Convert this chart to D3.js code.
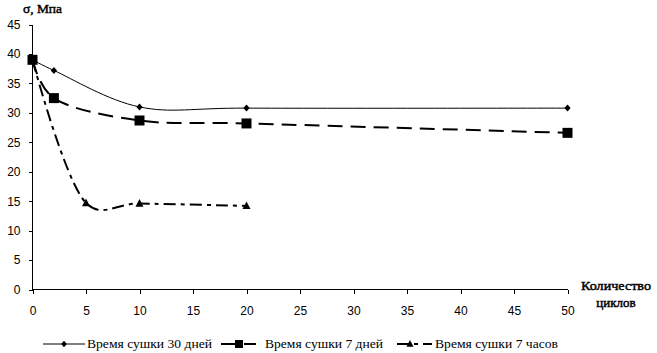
<!DOCTYPE html>
<html>
<head>
<meta charset="utf-8">
<script src="https://cdn.jsdelivr.net/npm/d3@7/dist/d3.min.js"></script>
<style>
    body { margin: 0; background: #fff; }
    svg { display: block; }
    .tick text { font-family: "Liberation Sans", Arial, sans-serif; font-size: 12px; fill: #000; }
    .axis path, .axis line { stroke: #000; shape-rendering: crispEdges; }
    .title { font-family: "Liberation Serif", "Times New Roman", serif; font-size: 13px; stroke: #000; stroke-width: 0.45px; }
    .legend-text { font-family: "Liberation Serif", "Times New Roman", serif; font-size: 12.5px; }
</style>
</head>
<body>
<svg id="chart" width="657" height="353"></svg>
<script>
// Data
const cycles30d = [0, 2, 10, 20, 50];
const sigma30d  = [39, 37.2, 31.0, 30.8, 30.8];

const cycles7d = [0, 2, 10, 20, 50];
const sigma7d  = [39, 32.5, 28.7, 28.2, 26.6];

const cycles7h = [0, 5, 10, 20];
const sigma7h  = [39, 14.7, 14.6, 14.2];

const xTicks = [0, 5, 10, 15, 20, 25, 30, 35, 40, 45, 50];
const yTicks = [0, 5, 10, 15, 20, 25, 30, 35, 40, 45];

const legendLabels = ['Время сушки 30 дней', 'Время сушки 7 дней', 'Время сушки 7 часов'];

const svg = d3.select('#chart');

const x = d3.scaleLinear().domain([0, 50]).range([32.5, 567.5]);
const y = d3.scaleLinear().domain([0, 45]).range([289.5, 24.5]);

// axes
svg.append('g')
    .attr('class', 'axis x-axis')
    .attr('transform', `translate(0,${y(0)})`)
    .call(d3.axisBottom(x).tickValues(xTicks).tickSizeInner(4).tickSizeOuter(0).tickPadding(13))
    .call(g => g.select('.domain').attr('d', `M${x(0)},0H${x(50)}`));

svg.append('g')
    .attr('class', 'axis y-axis')
    .attr('transform', `translate(${x(0)},0)`)
    .call(d3.axisLeft(y).tickValues(yTicks).tickSizeInner(4).tickSizeOuter(0).tickPadding(8))
    .call(g => g.select('.domain').attr('d', `M0,${y(45)}V${y(0)}`));

svg.selectAll('.tick text').attr('font-family', null).attr('font-size', null);

// axis titles (faux bold: stroked regular serif)
svg.append('text').attr('class', 'title')
    .attr('x', 23).attr('y', 13)
    .attr('textLength', 39).attr('lengthAdjust', 'spacingAndGlyphs')
    .text('σ, Мпа');
svg.append('text').attr('class', 'title')
    .attr('x', 581).attr('y', 290)
    .attr('textLength', 70).attr('lengthAdjust', 'spacingAndGlyphs')
    .text('Количество');
svg.append('text').attr('class', 'title')
    .attr('x', 616).attr('y', 307)
    .attr('text-anchor', 'middle')
    .text('циклов');

// marker shapes
const triangle = {
    draw(ctx, size) {
        const r = Math.sqrt(size) / 2;
        ctx.moveTo(0, -r * 1.1);
        ctx.lineTo(r, r * 0.8);
        ctx.lineTo(-r, r * 0.8);
        ctx.closePath();
    }
};
const diamond = {
    draw(ctx, size) {
        const r = Math.sqrt(size) / 2;
        ctx.moveTo(0, -r);
        ctx.lineTo(r * 0.9, 0);
        ctx.lineTo(0, r);
        ctx.lineTo(-r * 0.9, 0);
        ctx.closePath();
    }
};

const series = [
    { xs: cycles7h, ys: sigma7h, width: 2, dash: '12,5,4,5', shape: triangle, size: 64 },
    { xs: cycles30d, ys: sigma30d, width: 1, dash: null, shape: diamond, size: 49 },
    { xs: cycles7d, ys: sigma7d, width: 2, dash: '15,8', shape: d3.symbolSquare, size: 100 }
];

const line = d3.line()
    .x(d => x(d[0]))
    .y(d => y(d[1]))
    .curve(d3.curveCatmullRom.alpha(0.25));

series.forEach(s => {
    const pts = s.xs.map((v, i) => [v, s.ys[i]]);
    svg.append('path')
        .datum(pts)
        .attr('fill', 'none')
        .attr('stroke', '#000')
        .attr('stroke-width', s.width)
        .attr('stroke-dasharray', s.dash)
        .attr('d', line);
    svg.selectAll(null)
        .data(pts)
        .join('path')
        .attr('transform', d => `translate(${x(d[0])},${y(d[1])})`)
        .attr('d', d3.symbol().type(s.shape).size(s.size))
        .attr('fill', '#000');
});

// legend
const legendItems = [
    { x0: 43, x1: 85, mx: 64, tx: 87, tw: 125, s: series[1] },
    { x0: 221, x1: 256, mx: 239, tx: 265, tw: 118, s: series[2] },
    { x0: 397, x1: 432, mx: 410, tx: 435, tw: 123, s: series[0] }
];
const ly = 344;
legendItems.forEach((item, i) => {
    svg.append('line')
        .attr('x1', item.x0).attr('x2', item.x1)
        .attr('y1', ly).attr('y2', ly)
        .attr('stroke', '#000')
        .attr('stroke-width', item.s.width)
        .attr('stroke-dasharray', item.s.dash);
    svg.append('path')
        .attr('transform', `translate(${item.mx},${ly})`)
        .attr('d', d3.symbol().type(item.s.shape).size(item.s === series[2] ? 64 : item.s.size * 0.8))
        .attr('fill', '#000');
    svg.append('text')
        .attr('class', 'legend-text')
        .attr('x', item.tx).attr('y', ly + 4)
        .attr('textLength', item.tw)
        .attr('lengthAdjust', 'spacingAndGlyphs')
        .text(legendLabels[i]);
});
</script>
</body>
</html>
